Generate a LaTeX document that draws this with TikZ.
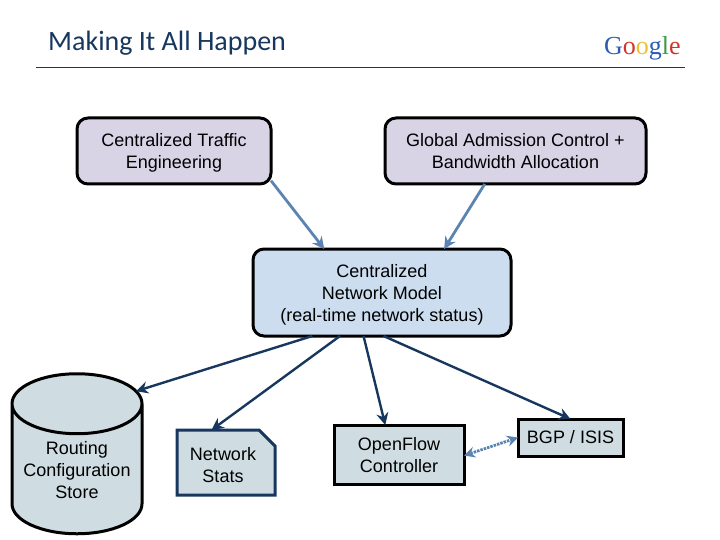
\documentclass[tikz,border=0pt]{standalone}
\usepackage{fontspec}
\setmainfont{Liberation Sans}
\newfontfamily\titlefont{Carlito}
\newfontfamily\logofont{Liberation Serif}
\usetikzlibrary{arrows.meta,shapes.geometric,shapes.misc}
\definecolor{titleblue}{HTML}{17375E}
\definecolor{linkblue}{HTML}{5B84B1}
\definecolor{lavender}{HTML}{D9D3E6}
\definecolor{modelblue}{HTML}{CBDDEF}
\definecolor{storegrey}{HTML}{CFDDE2}
\def\linetop{\rule{0pt}{17.5pt}}
\tikzset{
	box/.style={draw=black, line width=3pt, outer sep=0pt, inner sep=0pt, align=center, font=\fontsize{18}{22}\selectfont},
	strutbox/.style={box, execute at end node=\rule[-4.5pt]{0pt}{4.5pt}},
	roundbox/.style={strutbox, rounded corners=11pt},
	toplink/.style={draw=linkblue, line width=2.8pt, -{Stealth[length=12pt,width=12pt]}},
	downlink/.style={draw=titleblue, line width=2.4pt, -{Stealth[length=12pt,width=12pt]}},
	peerlink/.style={draw=linkblue, line width=2.8pt, dash pattern=on 2.5pt off 1pt, {Stealth[length=11pt,width=11pt]}-{Stealth[length=11pt,width=11pt]}}
}
\begin{document}
\begin{tikzpicture}[x=1pt, y=1pt]
		%%%%% START %%%%%
		\useasboundingbox (0, 0) rectangle (720, -540);
		
		\node[anchor=base west, inner sep=0pt, text=titleblue, font=\titlefont\fontsize{28}{30}\selectfont] (title) at (48, -51) {Making It All Happen};
		\node[anchor=base west, inner sep=0pt, font=\logofont\fontsize{26}{30}\selectfont] (logo) at (604, -55) {\textcolor[HTML]{2A5DB0}{G}\textcolor[HTML]{D0352B}{o}\textcolor[HTML]{EBC12F}{o}\textcolor[HTML]{2A5DB0}{g}\textcolor[HTML]{3C9A45}{l}\textcolor[HTML]{D0352B}{e}};
		\draw[draw=titleblue, line width=0.8pt] (36, -67) -- (685, -67);
		
		\node[roundbox, fill=lavender, minimum width=194pt, minimum height=66pt] (traffic) at (174, -151) {\linetop Centralized Traffic\\Engineering};
		\node[roundbox, fill=lavender, minimum width=261pt, minimum height=66pt] (admission) at (515.5, -151) {\linetop Global Admission Control +\\Bandwidth Allocation};
		\node[roundbox, fill=modelblue, minimum width=258pt, minimum height=87pt] (model) at (382, -292.5) {\linetop Centralized\\Network Model\\(real-time network status)};
		
		\node[strutbox, cylinder, shape border rotate=90, aspect=0.56, fill=storegrey, cylinder uses custom fill, cylinder body fill=storegrey, cylinder end fill=storegrey, minimum width=130pt, minimum height=160pt] (store) at (77, -469.5) {\linetop Routing\\Configuration\\Store};
		\node[strutbox, chamfered rectangle, chamfered rectangle corners=north east, chamfered rectangle xsep=8pt, chamfered rectangle ysep=8pt, draw=titleblue, fill=storegrey, minimum width=98pt, minimum height=65pt] (stats) at (226, -462.5) {\rule{0pt}{22pt}Network\hspace*{6pt}\\Stats\hspace*{6pt}};
		\node[strutbox, fill=storegrey, minimum width=130pt, minimum height=59pt] (openflow) at (399, -454.5) {\linetop OpenFlow\\Controller};
		\node[box, fill=storegrey, minimum width=105pt, minimum height=37pt] (bgp) at (570.5, -437.5) {BGP / ISIS};
		
		\draw[toplink] (traffic.-17.9) -- (model.143.4);
		\draw[toplink] (admission.227.3) -- (model.35.2);
		
		\draw[downlink] (model.212.2) -- (store.53.4);
		\draw[downlink] (model.226.7) -- (stats.114.8);
		\draw[downlink] (model.247.5) -- (openflow.115);
		\draw[downlink] (model.272.6) -- (bgp.north);
		
		\draw[peerlink] (openflow.-1.3) -- (bgp.west);
		%%%%% END %%%%%
	\end{tikzpicture}
\end{document}
